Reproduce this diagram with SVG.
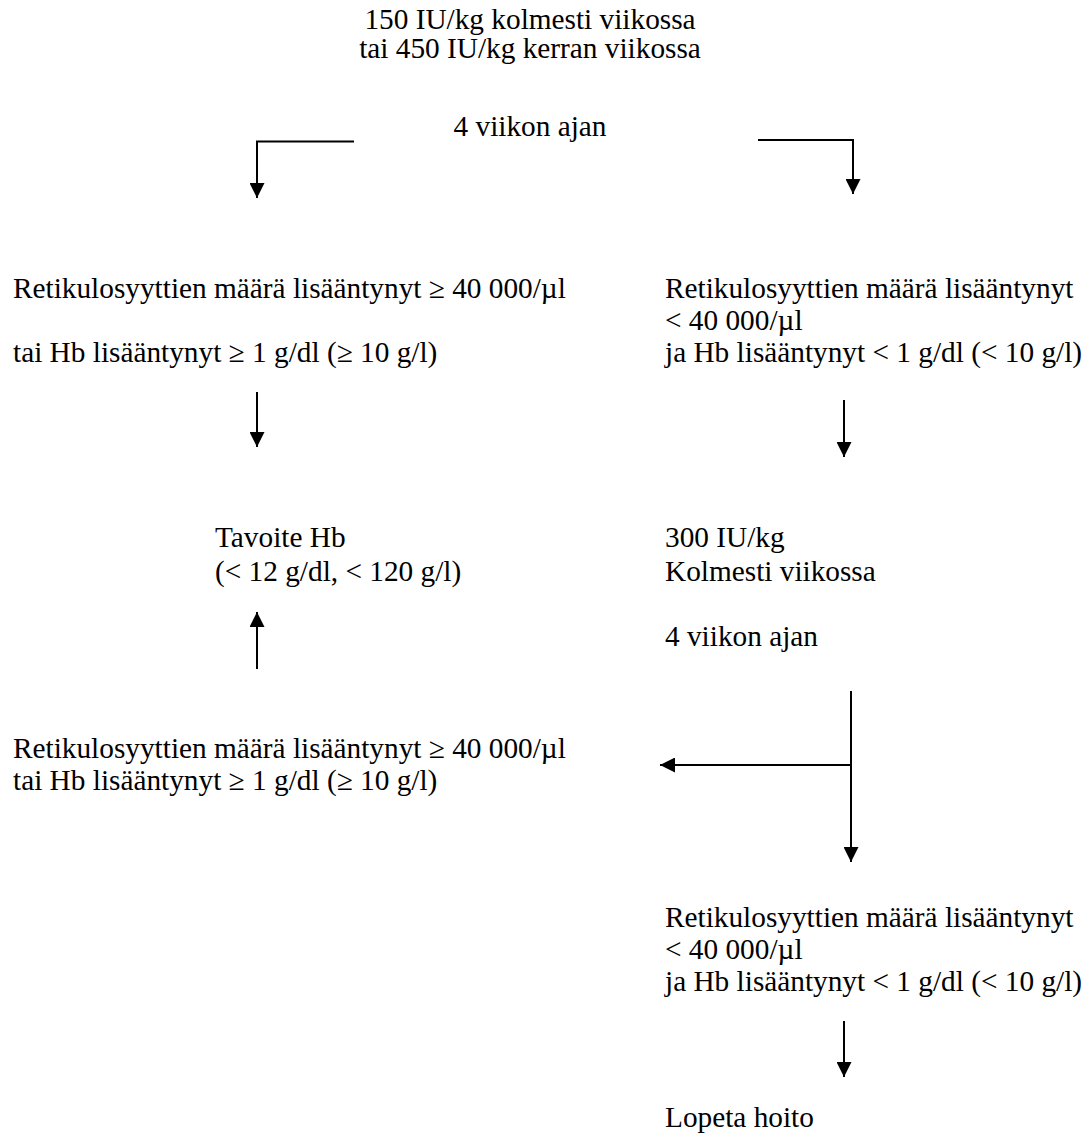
<svg xmlns="http://www.w3.org/2000/svg" width="1090" height="1135" viewBox="0 0 1090 1135">
<defs>
<style>
text{font-family:"Liberation Serif","Times New Roman",serif;font-size:29.3px;fill:#000}
.c{fill:none;stroke:#000;stroke-width:2}
</style>
<marker id="ah" markerUnits="userSpaceOnUse" markerWidth="16" markerHeight="15" refX="15" refY="7.5" orient="auto">
<path d="M0,0 L15,7.5 L0,15 z" fill="#000"/>
</marker>
</defs>
<rect width="1090" height="1135" fill="#fff"/>
<g id="start">
<text x="530" y="29" text-anchor="middle">150 IU/kg kolmesti viikossa</text>
<text x="530" y="58" text-anchor="middle">tai 450 IU/kg kerran viikossa</text>
<text x="530" y="136" text-anchor="middle">4 viikon ajan</text>
</g>
<g id="left-response">
<text x="13" y="298">Retikulosyyttien määrä lisääntynyt ≥ 40 000/µl</text>
<text x="13" y="362">tai Hb lisääntynyt ≥ 1 g/dl (≥ 10 g/l)</text>
</g>
<g id="right-noresponse">
<text x="665" y="298">Retikulosyyttien määrä lisääntynyt</text>
<text x="665" y="330">&lt; 40 000/µl</text>
<text x="665" y="362">ja Hb lisääntynyt &lt; 1 g/dl (&lt; 10 g/l)</text>
</g>
<g id="target">
<text x="215" y="547">Tavoite Hb</text>
<text x="215" y="581">(&lt; 12 g/dl, &lt; 120 g/l)</text>
</g>
<g id="dose300">
<text x="665" y="547">300 IU/kg</text>
<text x="665" y="581">Kolmesti viikossa</text>
<text x="665" y="646">4 viikon ajan</text>
</g>
<g id="left-response2">
<text x="13" y="758">Retikulosyyttien määrä lisääntynyt ≥ 40 000/µl</text>
<text x="13" y="790">tai Hb lisääntynyt ≥ 1 g/dl (≥ 10 g/l)</text>
</g>
<g id="right-noresponse2">
<text x="665" y="927">Retikulosyyttien määrä lisääntynyt</text>
<text x="665" y="959">&lt; 40 000/µl</text>
<text x="665" y="991">ja Hb lisääntynyt &lt; 1 g/dl (&lt; 10 g/l)</text>
</g>
<g id="stop">
<text x="665" y="1127">Lopeta hoito</text>
</g>
<g id="connectors">
<path class="c" d="M354,141.5 H257 V198" marker-end="url(#ah)"/>
<path class="c" d="M758,140 H853 V194" marker-end="url(#ah)"/>
<path class="c" d="M257,392 V447" marker-end="url(#ah)"/>
<path class="c" d="M844,400 V457" marker-end="url(#ah)"/>
<path class="c" d="M257,669 V612" marker-end="url(#ah)"/>
<path class="c" d="M851,691 V862" marker-end="url(#ah)"/>
<path class="c" d="M851,765 H660" marker-end="url(#ah)"/>
<path class="c" d="M844,1021 V1077" marker-end="url(#ah)"/>
</g>
</svg>
